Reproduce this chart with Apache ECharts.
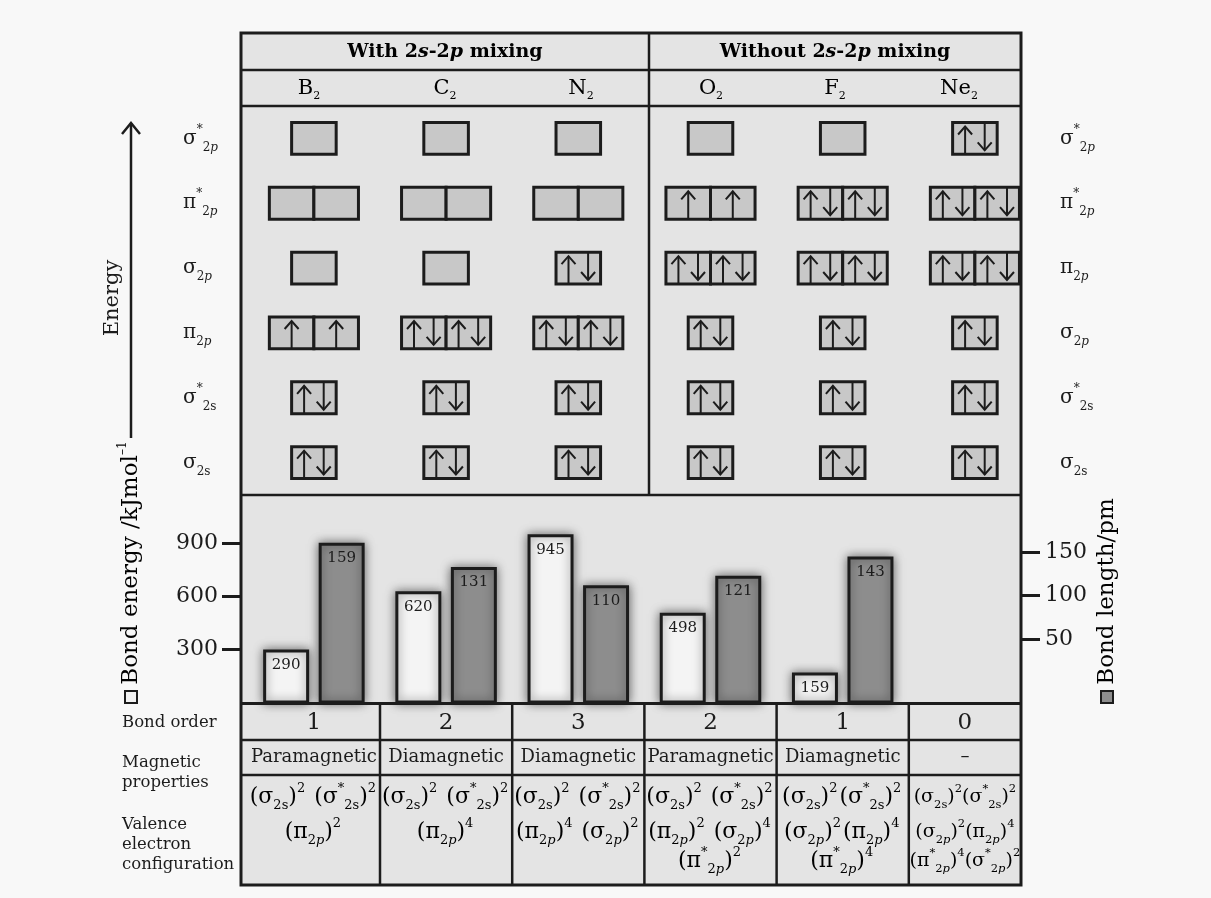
<!DOCTYPE html>
<html><head><meta charset="utf-8">
<script src="https://cdn.jsdelivr.net/npm/echarts@6.0.0/dist/echarts.min.js"></script>
<style>html,body{margin:0;padding:0;background:#f8f8f8;}#chart{width:1211px;height:898px;}</style>
</head><body><div id="chart"></div>
<script>
// ---------------- data ----------------
const molecules = ['B', 'C', 'N', 'O', 'F', 'Ne'];          // each shown as X2
const groupTitles = ['With 2s-2p mixing', 'Without 2s-2p mixing'];
const orbitalsLeft = ['σ*2p', 'π*2p', 'σ2p', 'π2p', 'σ*2s', 'σ2s'];
const orbitalsRight = ['σ*2p', 'π*2p', 'π2p', 'σ2p', 'σ*2s', 'σ2s'];
// electrons per box, rows top -> bottom
const occB2 = [[0], [0, 0], [0], [1, 1], [2], [2]];
const occC2 = [[0], [0, 0], [0], [2, 2], [2], [2]];
const occN2 = [[0], [0, 0], [2], [2, 2], [2], [2]];
const occO2 = [[0], [1, 1], [2, 2], [2], [2], [2]];
const occF2 = [[0], [2, 2], [2, 2], [2], [2], [2]];
const occNe2 = [[2], [2, 2], [2, 2], [2], [2], [2]];
const bondEnergy = [290, 620, 945, 498, 159, null];
const bondLength = [159, 131, 110, 121, 143, null];
const energyTicks = [300, 600, 900];
const lengthTicks = [50, 100, 150];
const bondOrder = ['1', '2', '3', '2', '1', '0'];
const magnetic = ['Paramagnetic', 'Diamagnetic', 'Diamagnetic', 'Paramagnetic', 'Diamagnetic', '–'];
const configB2 = [[['σ2s', 2], ['σ*2s', 2]], [['π2p', 2]]];
const configC2 = [[['σ2s', 2], ['σ*2s', 2]], [['π2p', 4]]];
const configN2 = [[['σ2s', 2], ['σ*2s', 2]], [['π2p', 4], ['σ2p', 2]]];
const configO2 = [[['σ2s', 2], ['σ*2s', 2]], [['π2p', 2], ['σ2p', 4]], [['π*2p', 2]]];
const configF2 = [[['σ2s', 2], ['σ*2s', 2]], [['σ2p', 2], ['π2p', 4]], [['π*2p', 4]]];
const configNe2 = [[['σ2s', 2], ['σ*2s', 2]], [['σ2p', 2], ['π2p', 4]], [['π*2p', 4], ['σ*2p', 2]]];
const rowLabels = ['Bond order', 'Magnetic\nproperties', 'Valence\nelectron\nconfiguration'];
const leftAxisTitle = 'Bond energy /kJmol';
const rightAxisTitle = 'Bond length/pm';

// ---------------- layout ----------------
const L = 241, R = 1021, TOP = 33, ROW1 = 70, ROW2 = 106, MO_B = 495, BAR_B = 702;
const TB0 = 703.5, TB1 = 740, TB2 = 775, TB3 = 885, SPLIT = 649;
const C0 = 313.9, BAND = 132.2;
const xMin = (L - C0) / BAND, xMax = (R - C0) / BAND;
const SERIF = 'DejaVu Serif';
const INK = '#1c1c1c';

const occ = [occB2, occC2, occN2, occO2, occF2, occNe2];
const configs = [configB2, configC2, configN2, configO2, configF2, configNe2];

const boxData = [];
occ.forEach((rows, m) => rows.forEach((r, k) => boxData.push([m, k, r.length, r[0], r.length > 1 ? r[1] : 0])));

// ------------- rich text helpers -------------
function orbRich(name, p) {
  const base = name[0];
  const star = name[1] === '*';
  const sub = name.slice(star ? 2 : 1);
  let s = `{${p}m|${base}}`;
  if (star) s += `{${p}sp|*}`;
  s += `{${p}sb|${sub[0]}}` + (sub[1] === 'p' ? `{${p}sbi|p}` : `{${p}sb|${sub[1]}}`);
  return s;
}
function makeRich(p, size, sub, lh, slh, pad) {
  const o = {};
  o[p + 'm'] = { fontFamily: SERIF, fontSize: size, lineHeight: lh, color: INK };
  o[p + 'sb'] = { fontFamily: SERIF, fontSize: sub, lineHeight: slh, verticalAlign: 'bottom', color: INK };
  o[p + 'sbi'] = { fontFamily: SERIF, fontSize: sub, fontStyle: 'italic', lineHeight: slh, verticalAlign: 'bottom', color: INK };
  o[p + 'sp'] = { fontFamily: SERIF, fontSize: sub, lineHeight: slh, verticalAlign: 'top', color: INK };
  o[p + 'sp2'] = { fontFamily: SERIF, fontSize: sub, lineHeight: slh, verticalAlign: 'top', color: INK, padding: [0, pad, 0, 0] };
  return o;
}
const cfgRich = Object.assign(makeRich('c', 22, 13, 30, 17, 2), makeRich('n', 19, 11.5, 28, 16, 0));
const lblRich = makeRich('l', 20, 12, 30, 17, 0);
function termRich(t, p) {
  return `{${p}m|(}` + orbRich(t[0], p) + `{${p}m|)}{${p}sp2|${t[1]}}`;
}

// ---------------- graphic ----------------
const g = [];
g.push({ type: 'rect', z: -5, shape: { x: L, y: TOP, width: R - L, height: TB3 - TOP }, style: { fill: '#e4e4e4' } });
function hline(y, x1, x2, w) { g.push({ type: 'line', z: 50, shape: { x1, y1: y, x2, y2: y }, style: { stroke: INK, lineWidth: w } }); }
function vline(x, y1, y2, w) { g.push({ type: 'line', z: 50, shape: { x1: x, y1, x2: x, y2 }, style: { stroke: INK, lineWidth: w } }); }
hline(ROW1, L, R, 2.5); hline(ROW2, L, R, 2.5); hline(MO_B, L, R, 2.5); hline(TB0, L, R, 3);
hline(TB1, L, R, 2.5); hline(TB2, L, R, 2.5);
vline(SPLIT, TOP, MO_B, 2.5);
for (let i = 1; i < 6; i++) vline(C0 + (i - 0.5) * BAND, TB0, TB3, 2.5);
g.push({ type: 'rect', z: 51, shape: { x: L, y: TOP, width: R - L, height: TB3 - TOP }, style: { fill: null, stroke: INK, lineWidth: 3 } });

// group titles
const hdrRich = {
  b: { fontFamily: SERIF, fontSize: 19, fontWeight: 'bold', color: INK },
  bi: { fontFamily: SERIF, fontSize: 19, fontWeight: 'bold', fontStyle: 'italic', color: INK }
};
function hdrText(t) { return t.replace(/2s-2p/, '{b|2}{bi|s}{b|-2}{bi|p}').replace(/^([^{]+)/, '{b|$1}').replace(/\}([^{}]+)$/, '}{b|$1}'); }
[[L, SPLIT], [SPLIT, R]].forEach((r, k) => {
  g.push({ type: 'text', z: 60, x: (r[0] + r[1]) / 2, y: (TOP + ROW1) / 2 + 1, style: { text: hdrText(groupTitles[k]), rich: hdrRich, align: 'center', verticalAlign: 'middle' } });
});
// molecule names
const nmRich = { m: { fontFamily: SERIF, fontSize: 21, lineHeight: 26, color: INK }, s: { fontFamily: SERIF, fontSize: 11, lineHeight: 14, verticalAlign: 'bottom', color: INK } };
molecules.forEach((m, i) => {
  const a = i < 3 ? L : SPLIT, b = i < 3 ? SPLIT : R, k = i % 3;
  const x = a + (b - a) * (k + 0.5) / 3;
  g.push({ type: 'text', z: 60, x, y: (ROW1 + ROW2) / 2 + 1, style: { text: `{m|${m}}{s|2}`, rich: nmRich, align: 'center', verticalAlign: 'middle' } });
});
// energy arrow + titles
g.push({ type: 'line', z: 60, shape: { x1: 131, y1: 438, x2: 131, y2: 123 }, style: { stroke: INK, lineWidth: 2.5 } });
g.push({ type: 'polyline', z: 60, shape: { points: [[122, 134], [131, 123], [140, 134]] }, style: { stroke: INK, lineWidth: 2.5, fill: null } });
g.push({ type: 'text', z: 60, x: 113, y: 298, rotation: Math.PI / 2, style: { text: 'Energy', fontFamily: SERIF, fontSize: 21, fill: INK, align: 'center', verticalAlign: 'middle' } });
const axRich = {
  t: { fontFamily: SERIF, fontSize: 23, color: INK, lineHeight: 28 },
  sp: { fontFamily: SERIF, fontSize: 12, color: INK, lineHeight: 15, verticalAlign: 'top' },
  bl: { width: 10, height: 10, backgroundColor: '#f2f2f2', borderColor: INK, borderWidth: 2 },
  bd: { width: 10, height: 10, backgroundColor: '#8d8d8d', borderColor: INK, borderWidth: 2 }
};
g.push({ type: 'text', z: 60, x: 131, y: 702, rotation: Math.PI / 2, style: { text: `{bl|}{t| ${leftAxisTitle}}{sp|–1}`, rich: axRich, align: 'left', verticalAlign: 'middle' } });
g.push({ type: 'text', z: 60, x: 1107, y: 702, rotation: Math.PI / 2, style: { text: `{bd|}{t| ${rightAxisTitle}}`, rich: axRich, align: 'left', verticalAlign: 'middle' } });

// table
const rowY = [(TB0 + TB1) / 2, (TB1 + TB2) / 2];
g.push({ type: 'text', z: 60, x: 122, y: 723, style: { text: rowLabels[0], fontFamily: SERIF, fontSize: 16.5, fill: INK, align: 'left', verticalAlign: 'middle' } });
g.push({ type: 'text', z: 60, x: 122, y: 773, style: { text: rowLabels[1], fontFamily: SERIF, fontSize: 16.5, lineHeight: 20, fill: INK, align: 'left', verticalAlign: 'middle' } });
g.push({ type: 'text', z: 60, x: 122, y: 845, style: { text: rowLabels[2], fontFamily: SERIF, fontSize: 16.5, lineHeight: 20, fill: INK, align: 'left', verticalAlign: 'middle' } });
const cfgY = [797, 832, 861];
molecules.forEach((m, i) => {
  const a = Math.max(L, C0 + (i - 0.5) * BAND), b = Math.min(R, C0 + (i + 0.5) * BAND);
  const x = (a + b) / 2, wide = (b - a) > 125;
  const p = wide ? 'c' : 'n';
  g.push({ type: 'text', z: 60, x, y: rowY[0] + 1, style: { text: bondOrder[i], fontFamily: SERIF, fontSize: 23, fill: INK, align: 'center', verticalAlign: 'middle' } });
  g.push({ type: 'text', z: 60, x, y: rowY[1], style: { text: magnetic[i], fontFamily: SERIF, fontSize: 18, fill: INK, align: 'center', verticalAlign: 'middle' } });
  configs[i].forEach((line, k) => {
    const sep = (wide && i < 4) ? `{${p}m| }` : '';
    g.push({ type: 'text', z: 60, x, y: cfgY[k], style: { text: line.map(t => termRich(t, p)).join(sep), rich: cfgRich, align: 'center', verticalAlign: 'middle' } });
  });
});

// ---------------- series renderers ----------------
function arrow(x, y0, h, up) {
  const st = { stroke: INK, lineWidth: 2, fill: null };
  if (up) return [
    { type: 'line', shape: { x1: x, y1: y0 + h, x2: x, y2: y0 + 4 }, style: st },
    { type: 'polyline', shape: { points: [[x - 7, y0 + 12], [x, y0 + 4], [x + 7, y0 + 12]] }, style: st }];
  return [
    { type: 'line', shape: { x1: x, y1: y0, x2: x, y2: y0 + h - 4 }, style: st },
    { type: 'polyline', shape: { points: [[x - 7, y0 + h - 12], [x, y0 + h - 4], [x + 7, y0 + h - 12]] }, style: st }];
}
function renderBoxes(params, api) {
  const c = api.coord([api.value(0), api.value(1)]);
  const sz = api.size([1, 1]);
  const w = sz[0] * 0.337, h = sz[1] * 0.49;
  const n = api.value(2);
  const x0 = c[0] - n * w / 2, y0 = c[1] - h / 2;
  const ch = [];
  for (let k = 0; k < n; k++) {
    const bx = x0 + k * w;
    ch.push({ type: 'rect', shape: { x: bx, y: y0, width: w, height: h }, style: { fill: '#c8c8c8', stroke: INK, lineWidth: 3 } });
    const e = api.value(3 + k);
    if (e === 1) ch.push(...arrow(bx + w / 2, y0, h, true));
    if (e === 2) { ch.push(...arrow(bx + w * 0.28, y0, h, true)); ch.push(...arrow(bx + w * 0.72, y0, h, false)); }
  }
  return { type: 'group', children: ch };
}
function barRenderer(offset, fill) {
  return function (params, api) {
    const v = api.value(1);
    if (isNaN(v)) return null;
    const p = api.coord([api.value(0), v]);
    const band = api.size([1, 0])[0];
    const cx = p[0] + offset * band, w = band * 0.325;
    const bottom = params.coordSys.y + params.coordSys.height;
    return { type: 'group', children: [
      { type: 'rect', shape: { x: cx - w / 2, y: p[1], width: w, height: bottom - p[1] },
        style: { fill, stroke: INK, lineWidth: 3, shadowBlur: 10, shadowColor: 'rgba(0,0,0,0.5)' } },
      { type: 'text', x: cx, y: p[1] + 14, style: { text: String(v), fontFamily: SERIF, fontSize: 15, fill: INK, align: 'center', verticalAlign: 'middle' } }
    ] };
  };
}

const chart = echarts.init(document.getElementById('chart'), null, { renderer: 'canvas' });
chart.setOption({
  backgroundColor: '#f8f8f8',
  animation: false,
  grid: [
    { left: L, top: ROW2, width: R - L, height: MO_B - ROW2 },
    { left: L, top: MO_B, width: R - L, height: BAR_B - MO_B }
  ],
  xAxis: [
    { gridIndex: 0, type: 'value', min: xMin, max: xMax, show: false },
    { gridIndex: 1, type: 'value', min: xMin, max: xMax, show: false }
  ],
  yAxis: [
    { gridIndex: 0, type: 'category', data: orbitalsLeft, inverse: true, position: 'left',
      axisLine: { show: false, onZero: false }, axisTick: { show: false }, splitLine: { show: false },
      axisLabel: { margin: 58, align: 'left', formatter: v => orbRich(v, 'l'), rich: lblRich } },
    { gridIndex: 0, type: 'category', data: orbitalsRight, inverse: true, position: 'right',
      axisLine: { show: false, onZero: false }, axisTick: { show: false }, splitLine: { show: false },
      axisLabel: { margin: 39, align: 'left', formatter: v => orbRich(v, 'l'), rich: lblRich } },
    { gridIndex: 1, type: 'value', min: 0, max: 1176, position: 'left', splitLine: { show: false },
      axisLine: { show: false, onZero: false },
      axisTick: { show: true, length: 19, customValues: energyTicks, lineStyle: { color: INK, width: 3 } },
      axisLabel: { customValues: energyTicks, margin: 23, fontFamily: SERIF, fontSize: 22, color: INK } },
    { gridIndex: 1, type: 'value', min: -22.4, max: 215.5, position: 'right', splitLine: { show: false },
      axisLine: { show: false, onZero: false },
      axisTick: { show: true, length: 19, customValues: lengthTicks, lineStyle: { color: INK, width: 3 } },
      axisLabel: { customValues: lengthTicks, margin: 24, fontFamily: SERIF, fontSize: 22, color: INK } }
  ],
  graphic: { elements: g },
  series: [
    { type: 'custom', xAxisIndex: 0, yAxisIndex: 0, clip: false, data: boxData, renderItem: renderBoxes, z: 5 },
    { type: 'custom', xAxisIndex: 1, yAxisIndex: 2, clip: false, data: bondEnergy.map((v, i) => [i, v]), renderItem: barRenderer(-0.21, '#f4f4f4'), z: 5 },
    { type: 'custom', xAxisIndex: 1, yAxisIndex: 3, clip: false, data: bondLength.map((v, i) => [i, v]), renderItem: barRenderer(0.21, '#8d8d8d'), z: 5 }
  ]
});
</script></body></html>
